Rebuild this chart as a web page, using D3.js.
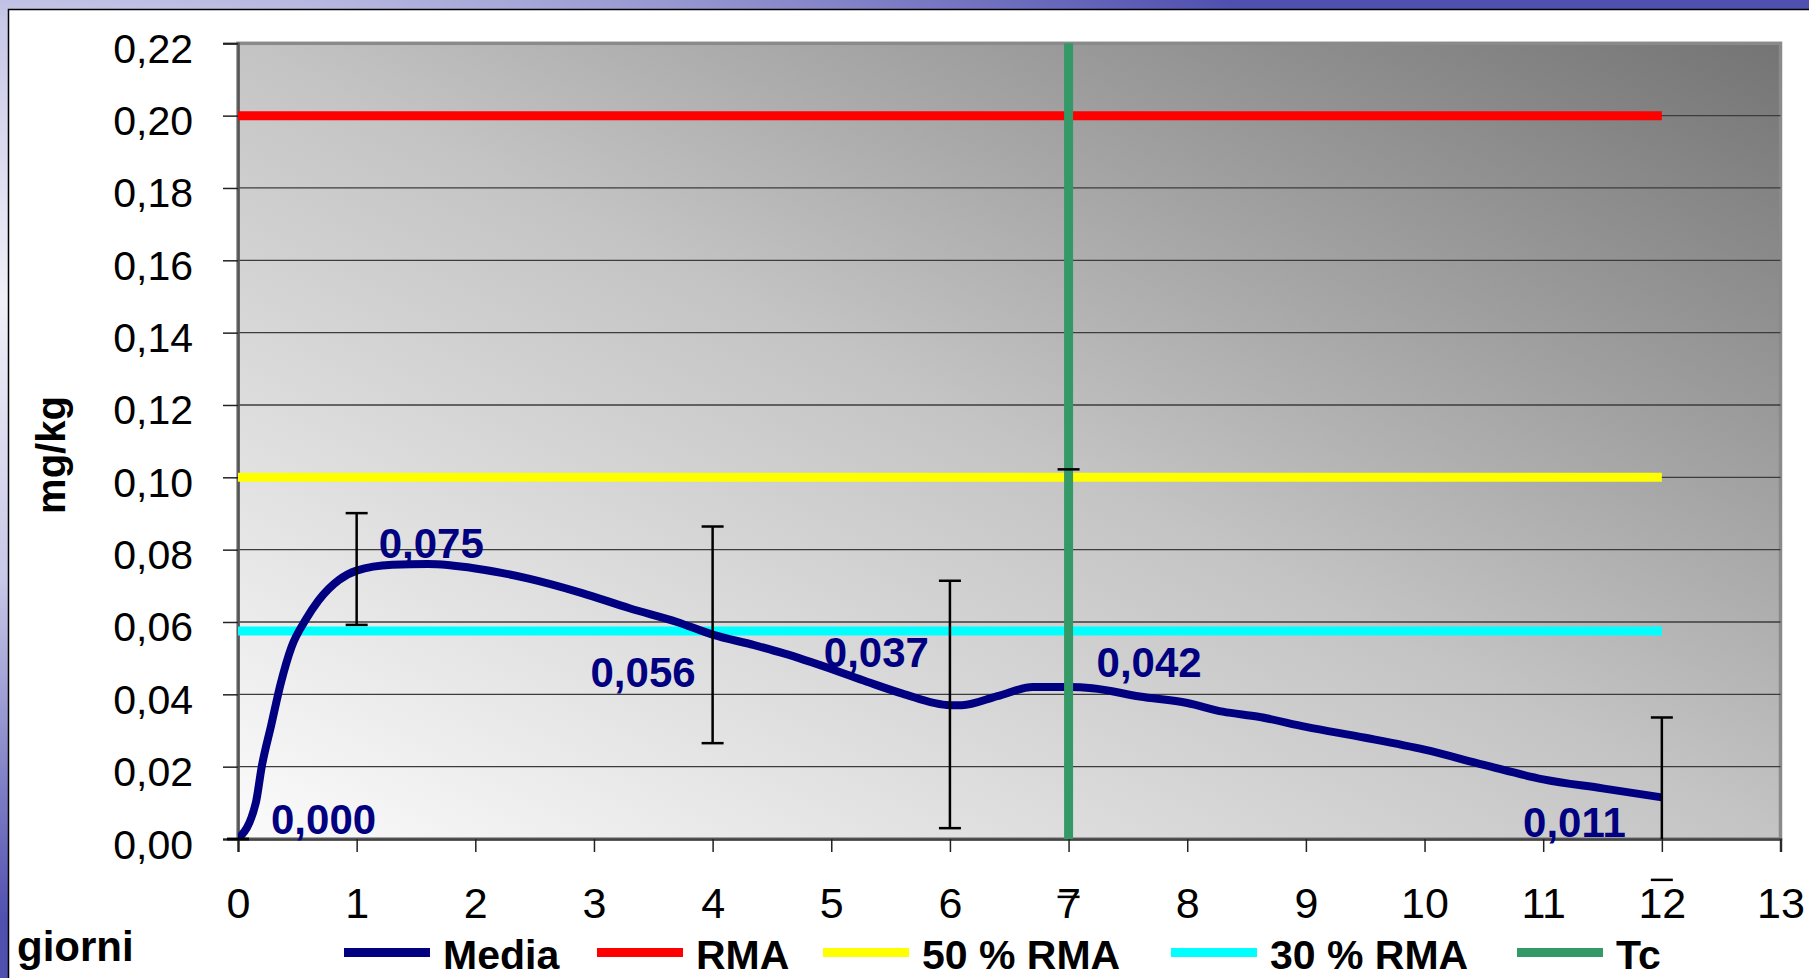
<!DOCTYPE html>
<html>
<head>
<meta charset="utf-8">
<script src="https://cdn.jsdelivr.net/npm/d3@7/dist/d3.min.js"></script>
<style>
  html, body { margin: 0; padding: 0; background: #fff; }
  svg { display: block; }
  text { font-family: "Liberation Sans", Arial, sans-serif; }
</style>
</head>
<body>
<svg id="chart" width="1809" height="978"></svg>
<script>
// ---------------- DATA ----------------
const days  = [0, 0.15, 0.2, 0.28, 0.36, 0.45, 0.57, 0.68, 0.85, 1.0, 1.3, 1.6, 2.0, 2.45, 2.9, 3.3, 3.7, 4.0, 4.35, 4.6, 5.0, 5.3, 5.6, 6.0, 6.1, 6.4, 6.7, 7.0, 7.2, 7.6, 8.0, 8.3, 8.6, 9.0, 9.5, 10.0, 10.5, 11.0, 11.5, 12.0];
const media = [0, 0.010, 0.020, 0.0315, 0.043, 0.053, 0.0606, 0.066, 0.0716, 0.0742, 0.0758, 0.076, 0.0748, 0.072, 0.068, 0.0638, 0.060, 0.0565, 0.0536, 0.0513, 0.047, 0.0435, 0.0402, 0.0370, 0.0370, 0.0395, 0.0420, 0.0420, 0.0417, 0.0394, 0.0376, 0.0352, 0.0338, 0.0310, 0.0280, 0.0247, 0.0205, 0.0165, 0.0140, 0.0115];

const errDays = [0, 1, 4, 6, 7, 12];
const errHigh = [0, 0.0901, 0.0864, 0.0714, 0.1022, 0.0336];
const errLow  = [0, 0.0592, 0.0265, 0.0030, -0.0160, -0.0113];

const labelDays   = [0, 1, 4, 6, 7, 12];
const labelValues = [0.000, 0.075, 0.056, 0.037, 0.042, 0.011];

const rmaLevel   = 0.20;
const rma50Level = 0.10;
const rma30Level = 0.0575;
const refStartDay = 0;
const refEndDay   = 12;
const tcDay = 7;

const xTickValues = [0,1,2,3,4,5,6,7,8,9,10,11,12,13];
const yTickValues = [0,0.02,0.04,0.06,0.08,0.10,0.12,0.14,0.16,0.18,0.20,0.22];

const legendNames = ["Media", "RMA", "50 % RMA", "30 % RMA", "Tc"];
const xTitle = "giorni";
const yTitle = "mg/kg";

// ---------------- LAYOUT / STYLE ----------------
const colors = { media: "#000080", rma: "#ff0000", rma50: "#ffff00", rma30: "#00ffff", tc: "#339966" };
const legendColors = [colors.media, colors.rma, colors.rma50, colors.rma30, colors.tc];
const legendX = [344, 597, 823, 1171, 1517];
const labelPlacement = [
  {anchor: "start", dx: 33,  dy: -5},
  {anchor: "start", dx: 22,  dy: -10},
  {anchor: "end",   dx: -17, dy: 51},
  {anchor: "end",   dx: -21, dy: -38},
  {anchor: "start", dx: 28,  dy: -10},
  {anchor: "end",   dx: -36, dy: 38}
];

const plot = { left: 238, right: 1780.5, top: 43.3, bottom: 839 };

const svg = d3.select("#chart");
const defs = svg.append("defs");

// slide background
const bg = defs.append("radialGradient").attr("id", "slideBg")
  .attr("gradientUnits", "userSpaceOnUse")
  .attr("cx", 0).attr("cy", 0).attr("r", 1)
  .attr("gradientTransform", "translate(0,300) scale(1400,620)");
bg.append("stop").attr("offset", 0).attr("stop-color", "#f0f0f8");
bg.append("stop").attr("offset", 0.45).attr("stop-color", "#c8c8e8");
bg.append("stop").attr("offset", 1).attr("stop-color", "#5050b0");

const pg = defs.append("linearGradient").attr("id", "plotBg")
  .attr("x1", 0).attr("y1", 1).attr("x2", 1).attr("y2", 0);
pg.append("stop").attr("offset", 0).attr("stop-color", "#fbfbfb");
pg.append("stop").attr("offset", 0.5).attr("stop-color", "#c4c4c4");
pg.append("stop").attr("offset", 1).attr("stop-color", "#747474");

defs.append("clipPath").attr("id", "plotClip")
  .append("rect").attr("x", plot.left).attr("y", plot.top)
  .attr("width", plot.right - plot.left).attr("height", plot.bottom - plot.top);

svg.append("rect").attr("width", 1809).attr("height", 978).attr("fill", "url(#slideBg)");
svg.append("rect").attr("x", 8.5).attr("y", 9.5).attr("width", 1820).attr("height", 1000)
  .attr("fill", "#ffffff").attr("stroke", "#000").attr("stroke-width", 1.5);

// scales
const x = d3.scaleLinear().domain([0, 13]).range([plot.left, plot.right]);
const y = d3.scaleLinear().domain([0, 0.22]).range([plot.bottom, plot.top]);

// plot area
svg.append("rect").attr("x", plot.left).attr("y", plot.top)
  .attr("width", plot.right - plot.left).attr("height", plot.bottom - plot.top)
  .attr("fill", "url(#plotBg)").attr("stroke", "#8a8a8a").attr("stroke-width", 3.5);

// gridlines
svg.append("g").selectAll("line").data(yTickValues.filter(v => v > 0 && v < 0.22)).join("line")
  .attr("x1", plot.left).attr("x2", plot.right)
  .attr("y1", d => y(d)).attr("y2", d => y(d))
  .attr("stroke", "#3c3c3c").attr("stroke-width", 1.3);

// axes
const fmtY = v => d3.format(".2f")(v).replace(".", ",");
const yAxis = d3.axisLeft(y).tickValues(yTickValues).tickSize(15).tickPadding(0).tickFormat(fmtY);
const gy = svg.append("g").attr("transform", `translate(${plot.left},0)`).call(yAxis);
gy.select(".domain").attr("stroke", "#555").attr("stroke-width", 2.5);
gy.selectAll(".tick line").attr("stroke", "#222").attr("stroke-width", 1.5);
gy.selectAll(".tick text").attr("x", -45).attr("dy", null).attr("y", 19)
  .attr("font-size", 41).attr("fill", "#000").attr("text-anchor", "end")
  .style("font-family", "'Liberation Sans', Arial, sans-serif");

const xAxis = d3.axisBottom(x).tickValues(xTickValues).tickSize(13).tickPadding(0).tickFormat(d3.format("d"));
const gx = svg.append("g").attr("transform", `translate(0,${plot.bottom})`).call(xAxis);
gx.select(".domain").attr("stroke", "#444").attr("stroke-width", 2.5);
gx.selectAll(".tick line").attr("stroke", "#222").attr("stroke-width", 1.5);
gx.selectAll(".tick text").attr("dy", null).attr("y", 79)
  .attr("font-size", 43).attr("fill", "#000")
  .style("font-family", "'Liberation Sans', Arial, sans-serif");

// reference lines
const refs = [
  {v: rmaLevel, c: colors.rma},
  {v: rma50Level, c: colors.rma50},
  {v: rma30Level, c: colors.rma30}
];
svg.append("g").selectAll("line").data(refs).join("line")
  .attr("x1", x(refStartDay)).attr("x2", x(refEndDay))
  .attr("y1", d => y(d.v)).attr("y2", d => y(d.v))
  .attr("stroke", d => d.c).attr("stroke-width", 9);

// media line
const line = d3.line().x((d, i) => x(days[i])).y(d => y(d)).curve(d3.curveMonotoneX);
svg.append("path").datum(media).attr("d", line)
  .attr("fill", "none").attr("stroke", colors.media).attr("stroke-width", 8)
  .attr("stroke-linejoin", "round").attr("clip-path", "url(#plotClip)");

// error bar stems (clipped to plot)
const errData = errDays.map((d, i) => ({d, hi: errHigh[i], lo: errLow[i]}));
svg.append("g").attr("clip-path", "url(#plotClip)").selectAll("line").data(errData).join("line")
  .attr("x1", e => x(e.d)).attr("x2", e => x(e.d))
  .attr("y1", e => y(e.hi)).attr("y2", e => y(e.lo))
  .attr("stroke", "#000").attr("stroke-width", 2.5);

// Tc vertical line
svg.append("line")
  .attr("x1", x(tcDay)).attr("x2", x(tcDay))
  .attr("y1", y(0.22)).attr("y2", y(0))
  .attr("stroke", colors.tc).attr("stroke-width", 9);

// error bar caps (not clipped)
const caps = svg.append("g");
errData.forEach(e => {
  [e.hi, e.lo].forEach(v => {
    caps.append("line")
      .attr("x1", x(e.d) - 11).attr("x2", x(e.d) + 11)
      .attr("y1", y(v)).attr("y2", y(v))
      .attr("stroke", "#000").attr("stroke-width", 2.5);
  });
});

// data labels
const fmtLabel = v => d3.format(".3f")(v).replace(".", ",");
svg.append("g").selectAll("text").data(labelDays).join("text")
  .attr("x", (d, i) => x(d) + labelPlacement[i].dx)
  .attr("y", (d, i) => y(labelValues[i]) + labelPlacement[i].dy)
  .attr("text-anchor", (d, i) => labelPlacement[i].anchor)
  .attr("font-size", 42).attr("font-weight", "bold").attr("fill", colors.media)
  .text((d, i) => fmtLabel(labelValues[i]));

// axis titles
svg.append("text").attr("transform", "translate(65,455) rotate(-90)")
  .attr("text-anchor", "middle").attr("font-size", 40).attr("font-weight", "bold")
  .attr("fill", "#000").text(yTitle);
svg.append("text").attr("x", 17).attr("y", 961)
  .attr("font-size", 42).attr("font-weight", "bold").attr("fill", "#000").text(xTitle);

// legend
const lg = svg.append("g");
legendNames.forEach((name, i) => {
  lg.append("rect").attr("x", legendX[i]).attr("y", 948).attr("width", 86).attr("height", 9)
    .attr("fill", legendColors[i]);
  lg.append("text").attr("x", legendX[i] + 99).attr("y", 969)
    .attr("font-size", 41).attr("font-weight", "bold").attr("fill", "#000").text(name);
});
</script>
</body>
</html>
